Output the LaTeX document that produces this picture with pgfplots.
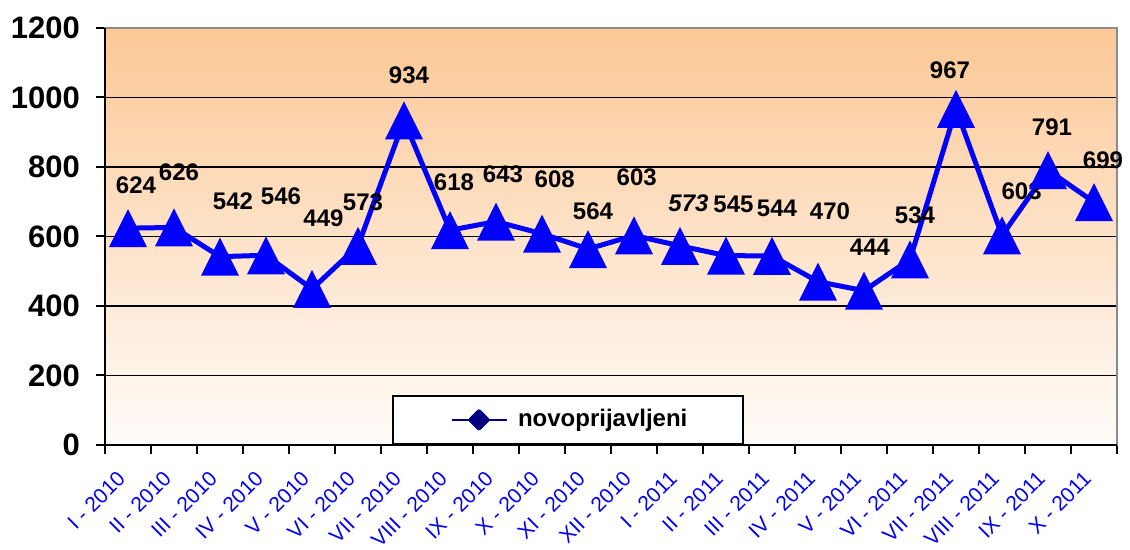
\documentclass[border=0pt]{standalone}
\usepackage{pgfplots}
\pgfplotsset{compat=1.18}
\usepackage{pgfplotstable}
\usepackage{fontspec}
\setmainfont{Liberation Sans}
\definecolor{lineblue}{RGB}{0,0,255}
\definecolor{navy}{RGB}{0,0,128}
\definecolor{bgtop}{RGB}{252,200,150}
\definecolor{bgbot}{RGB}{255,252,250}
\definecolor{framegray}{RGB}{140,140,140}
\pgfdeclareplotmark{tri}{%
  \pgfpathmoveto{\pgfpoint{0pt}{9.5pt}}%
  \pgfpathlineto{\pgfpoint{-9.5pt}{-9.5pt}}%
  \pgfpathlineto{\pgfpoint{9.5pt}{-9.5pt}}%
  \pgfpathclose\pgfusepathqfill}

\pgfplotstableread{
x y dx dy it
0 624 4 21.5 0
1 626 2.5 27.5 0
2 542 6.5 27.5 0
3 546 7.5 29.3 0
4 449 5.75 35.5 0
5 573 2.5 22 0
6 934 2.5 22.5 0
7 618 2 24.25 0
8 643 3.5 23.8 0
9 608 6.35 27.2 0
10 564 2.5 18.65 0
11 603 1.35 28.9 0
12 573 4.25 21.5 1
13 545 3.75 25.5 0
14 544 2.5 23.75 0
15 470 6 35 0
16 444 3 21.5 0
17 534 2.5 22 0
18 967 -3 19.5 0
19 603 9.8 22.25 0
20 791 2 21.5 0
21 699 4.5 21 0
}\data

\begin{document}
\begin{tikzpicture}
\path[use as bounding box] (-52.5pt,-52.5pt) rectangle (512.5pt,222.5pt);
\begin{axis}[
  name=ax, at={(0,0)}, anchor=south west,
  scale only axis, width=506pt, height=208.5pt,
  xmin=-0.5, xmax=21.5, ymin=0, ymax=1200,
  /pgf/number format/assume math mode=true,
  /pgf/number format/1000 sep={},
  axis background/.style={top color=bgtop, bottom color=bgbot},
  axis line style={draw=framegray, line width=1pt},
  ytick={0,200,...,1200},
  minor ytick={0,200,...,1200},
  xtick={0,...,21},
  minor xtick={-0.5,0.5,...,21.5},
  xtick pos=bottom, ytick pos=left,
  xticklabels={I - 2010, II - 2010, III - 2010, IV - 2010, V - 2010, VI - 2010, VII - 2010, VIII - 2010, IX - 2010, X - 2010, XI - 2010, XII - 2010, I - 2011, II - 2011, III - 2011, IV - 2011, V - 2011, VI - 2011, VII - 2011, VIII - 2011, IX - 2011, X - 2011},
  major tick length=0pt,
  minor tick length=4.5pt,
  tick align=outside,
  tick style={black, line width=1pt},
  ymajorgrids,
  major grid style={black, line width=0.75pt},
  yticklabel style={font=\fontsize{15.5}{17}\selectfont\bfseries, xshift=-9pt},
  xticklabel style={font=\fontsize{10.5}{12}\selectfont, text=lineblue, xshift=-6pt, yshift=-7.5pt, rotate=45, anchor=north east},
  legend style={at={(0.2836,0)}, anchor=south west, draw=black, line width=1pt, fill=white,
     inner xsep=11pt, inner ysep=5pt, font=\fontsize{12}{14}\selectfont\bfseries},
  legend image code/.code={%
     \path (-17pt,0pt) (30pt,0pt);
     \draw[navy, line width=1pt] (0pt,0pt) -- (27.5pt,0pt);
     \fill[navy] (13.75pt,4pt) -- (17.75pt,0pt) -- (13.75pt,-4pt) -- (9.75pt,0pt) -- cycle;},
  clip=false,
]
\addplot[lineblue, line width=2.5pt, line join=round, mark=tri, mark options={fill=lineblue},
  point meta=explicit,
  visualization depends on={\thisrow{dx} \as \ldx},
  visualization depends on={\thisrow{dy} \as \ldy},
  visualization depends on={\thisrow{it} \as \isit},
  nodes near coords={\ifdim\isit pt>0.5pt\itshape\fi\pgfmathprintnumber{\pgfplotspointmeta}},
  every node near coord/.append style={anchor=center, xshift=\ldx pt, yshift=\ldy pt, text=black, font=\fontsize{12}{14}\selectfont\bfseries}]
  table[x=x, y=y, meta=y] {\data};
\addlegendentry{\makebox[99.5pt][l]{novoprijavljeni}}
\end{axis}
\draw[black, line width=1pt] (ax.north west) -- (ax.south west) -- (ax.south east);
\end{tikzpicture}
\end{document}
